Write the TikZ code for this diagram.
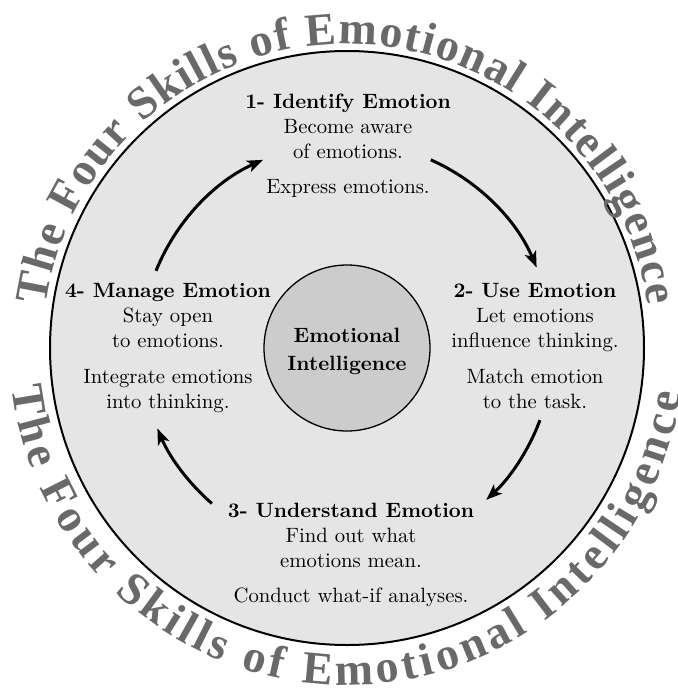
\documentclass[tikz,border=0pt]{standalone}
\usepackage{fontspec}
\setmainfont{lmroman10-regular.otf}[BoldFont=lmroman10-bold.otf,ItalicFont=lmroman10-italic.otf,BoldItalicFont=lmroman10-bolditalic.otf]
\newfontfamily\ringfont{Liberation Serif}
\usetikzlibrary{arrows.meta,decorations.text,calc}
\definecolor{ringgray}{RGB}{105,105,105}
\definecolor{bigfill}{RGB}{229,229,229}
\definecolor{innerfill}{RGB}{204,204,204}
\begin{document}
\begin{tikzpicture}[x=1pt,y=1pt,
  block/.style={anchor=base, inner sep=0pt, font=\fontsize{20.7}{25}\selectfont},
  arr/.style={line width=3pt, -{Stealth[length=16pt,width=12pt,inset=4pt]}},
  ring/.style={decorate, decoration={text along path, text align={fit to path},
     text={|\ringfont\bfseries\fontsize{46}{46}\selectfont\color{ringgray}|#1}}}]
\useasboundingbox (0,0) rectangle (678,-689);
\coordinate (C) at (347,-348);
\node[circle, draw, line width=2pt, fill=bigfill, minimum size=594pt, inner sep=0pt] (outer) at (C) {};
\node[circle, draw, line width=1.3pt, fill=innerfill, minimum size=166pt, inner sep=0pt] (ei) at (C) {};
\node[block, font=\fontsize{20.7}{28}\selectfont\bfseries] (eitext) at (347,-342)
  {\begin{tabular}[t]{@{}c@{}}Emotional\\Intelligence\end{tabular}};
\node[block] (s1) at (348,-108)
  {\begin{tabular}[t]{@{}c@{}}\textbf{1- Identify Emotion}\\Become aware\\of emotions.\\[10pt]Express emotions.\end{tabular}};
\node[block] (s2) at (535,-297)
  {\begin{tabular}[t]{@{}c@{}}\textbf{2- Use Emotion}\\Let emotions\\influence thinking.\\[11pt]Match emotion\\to the task.\end{tabular}};
\node[block] (s3) at (351,-517)
  {\begin{tabular}[t]{@{}c@{}}\textbf{3- Understand Emotion}\\Find out what\\emotions mean.\\[10pt]Conduct what-if analyses.\end{tabular}};
\node[block] (s4) at (168,-297)
  {\begin{tabular}[t]{@{}c@{}}\textbf{4- Manage Emotion}\\Stay open\\to emotions.\\[11pt]Integrate emotions\\into thinking.\end{tabular}};
\coordinate (a1) at ($(C)+(158:206)$);
\coordinate (a2) at ($(C)+(66:206)$);
\coordinate (a3) at ($(C)+(-20.5:206)$);
\coordinate (a4) at ($(C)+(229:206)$);
\draw[arr] (a1) arc[start angle=158, end angle=114, radius=206];
\draw[arr] (a2) arc[start angle=66, end angle=23, radius=206];
\draw[arr] (a3) arc[start angle=-20.5, end angle=-47.5, radius=206];
\draw[arr] (a4) arc[start angle=229, end angle=203, radius=206];
\coordinate (t0) at ($(C)+(172:304)$);
\coordinate (b0) at ($(C)+(186.7:337)$);
\path[ring={The Four Skills of Emotional Intelligence}] (t0) arc[start angle=172, end angle=8, radius=304];
\path[ring={The Four Skills of Emotional Intelligence}] (b0) arc[start angle=186.7, end angle=352.2, radius=337];
\end{tikzpicture}
\end{document}
